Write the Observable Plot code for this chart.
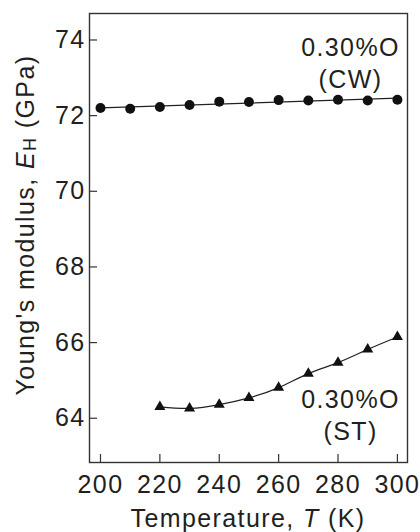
<!DOCTYPE html>
<html><head><meta charset="utf-8">
<script src="https://cdn.jsdelivr.net/npm/d3@7"></script>
<script src="https://cdn.jsdelivr.net/npm/@observablehq/plot@0.6"></script>
<style>
body{margin:0;background:#fff}
#chart svg{font-family:"Liberation Sans",Arial,Helvetica,sans-serif}
#chart svg text{letter-spacing:1.4px}
</style>
</head><body><div id="chart"></div>
<script>
// Data
const cwTemperatures = [200, 210, 220, 230, 240, 250, 260, 270, 280, 290, 300];
const cwModulus = [72.20, 72.18, 72.23, 72.28, 72.37, 72.36, 72.41, 72.40, 72.42, 72.40, 72.42];
const stTemperatures = [220, 230, 240, 250, 260, 270, 280, 290, 300];
const stModulus = [64.30, 64.26, 64.36, 64.54, 64.81, 65.18, 65.47, 65.82, 66.15];
const xTicks = [200, 220, 240, 260, 280, 300];
const yTicks = [64, 66, 68, 70, 72, 74];
const cwLabel = "0.30%O\n(CW)";
const stLabel = "0.30%O\n(ST)";

const cw = cwTemperatures.map((t, i) => ({t, e: cwModulus[i]}));
const st = stTemperatures.map((t, i) => ({t, e: stModulus[i]}));

const W = 420, H = 532, mL = 89, mR = 13, mT = 13, mB = 70;
const ink = "#231f20";
const fs = 25;

const chart = Plot.plot({
  width: W, height: H,
  marginLeft: mL, marginRight: mR, marginTop: mT, marginBottom: mB,
  style: {fontFamily: '"Liberation Sans", Arial, sans-serif', fontSize: fs + "px", color: ink, background: "#fff"},
  x: {domain: [196.3, 303.4], label: null},
  y: {domain: [62.83, 74.7], label: null},
  marks: [
    Plot.frame({stroke: "#333", strokeWidth: 1.4}),
    Plot.tickX(xTicks, {stroke: "#333", strokeWidth: 1.2, insetTop: H - mT - mB - 8}),
    Plot.tickY(yTicks, {stroke: "#333", strokeWidth: 1.2, insetRight: W - mL - mR - 8}),
    Plot.axisX({ticks: xTicks, tickSize: 0, tickPadding: 13, fontSize: fs, label: null, fill: ink}),
    Plot.axisY({ticks: yTicks, tickSize: 0, tickPadding: 4, fontSize: fs, label: null, fill: ink}),
    Plot.linearRegressionY(cw, {x: "t", y: "e", ci: 0, stroke: "#222", strokeWidth: 1.2}),
    Plot.line(st, {x: "t", y: "e", curve: "natural", stroke: "#222", strokeWidth: 1.2}),
    Plot.dot(cw, {x: "t", y: "e", r: 5, fill: "#111", stroke: "none", symbol: "circle"}),
    Plot.dot(st, {x: "t", y: "e", r: 4.1, fill: "#111", stroke: "none", symbol: "triangle"}),
    Plot.text([cwLabel], {text: d => d, frameAnchor: "top-right", dx: -57, dy: 48, textAnchor: "middle", lineAnchor: "middle", lineHeight: 1.3, fontSize: fs, fill: ink}),
    Plot.text([stLabel], {text: d => d, frameAnchor: "bottom-right", dx: -57, dy: -49, textAnchor: "middle", lineAnchor: "middle", lineHeight: 1.3, fontSize: fs, fill: ink})
  ]
});

const svg = d3.select(chart);
// y-axis title
const yt = svg.append("text")
  .attr("transform", "translate(25,225) rotate(-90)")
  .attr("text-anchor", "middle")
  .attr("dominant-baseline", "central")
  .attr("font-size", fs)
  .attr("fill", ink);
yt.append("tspan").text("Young's modulus, ");
yt.append("tspan").attr("font-style", "italic").text("E");
yt.append("tspan").attr("font-size", 18).attr("dy", 5).text("H");
yt.append("tspan").attr("dy", -5).text(" (GPa)");

// x-axis title
const xt = svg.append("text")
  .attr("x", (mL + W - mR) / 2)
  .attr("y", 527)
  .attr("text-anchor", "middle")
  .attr("font-size", fs)
  .attr("fill", ink);
xt.append("tspan").text("Temperature, ");
xt.append("tspan").attr("font-style", "italic").text("T");
xt.append("tspan").text(" (K)");

document.getElementById("chart").appendChild(chart);
</script>
</body></html>
